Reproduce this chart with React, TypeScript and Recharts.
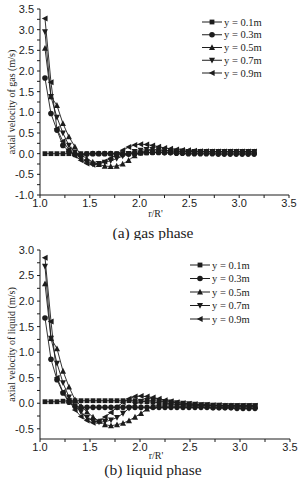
import React from "react";
import { LineChart, Line, XAxis, YAxis, Legend } from "recharts";

const SERIF = '"Liberation Serif", "Times New Roman", serif';
const SANS = '"Liberation Sans", Arial, sans-serif';
const INK = "#1c1c1c";

// radial position r/R'
const rRatio = [
  1.05, 1.11, 1.17, 1.23, 1.29, 1.35, 1.41, 1.47, 1.53, 1.59, 1.65, 1.71,
  1.77, 1.83, 1.89, 1.95, 2.01, 2.07, 2.13, 2.19, 2.25, 2.31, 2.37, 2.43,
  2.49, 2.55, 2.61, 2.67, 2.73, 2.79, 2.85, 2.91, 2.97, 3.03, 3.09, 3.15,
];

// (a) gas phase, axial velocity (m/s)
const gasY01 = [
  0, 0, 0, 0, 0, 0, 0, 0, 0, 0, 0, 0, 0, 0, 0, 0, 0.01, 0.02, 0.03, 0.04,
  0.04, 0.04, 0.04, 0.04, 0.04, 0.04, 0.04, 0.04, 0.04, 0.04, 0.04, 0.04, 0.04,
  0.04, 0.04, 0.04,
];
const gasY03 = [
  1.83, 0.97, 0.57, 0.2, 0.06, -0.02, -0.03, -0.01, 0, 0, 0, 0, -0.01, -0.02,
  -0.01, 0.01, 0.02, 0.03, 0.03, 0.03, 0.02, 0.02, 0.01, 0.01, 0, 0, 0, 0, 0,
  -0.01, -0.01, -0.01, -0.01, -0.01, -0.01, -0.01,
];
const gasY05 = [
  2.55, 1.38, 1.17, 0.73, 0.41, 0.17, -0.02, -0.12, -0.2, -0.26, -0.3, -0.31,
  -0.3, -0.25, -0.16, -0.05, 0.03, 0.07, 0.09, 0.09, 0.08, 0.07, 0.06, 0.05,
  0.05, 0.05, 0.05, 0.05, 0.05, 0.05, 0.05, 0.05, 0.05, 0.05, 0.05, 0.05,
];
const gasY07 = [
  2.95, 1.38, 0.88, 0.5, 0.2, 0.04, -0.12, -0.2, -0.25, -0.24, -0.21, -0.17,
  -0.12, -0.06, 0, 0.05, 0.08, 0.1, 0.1, 0.09, 0.08, 0.07, 0.06, 0.06, 0.05,
  0.05, 0.05, 0.05, 0.05, 0.05, 0.05, 0.05, 0.05, 0.05, 0.05, 0.05,
];
const gasY09 = [
  3.27, 1.73, 0.6, 0.3, 0.1, -0.05, -0.16, -0.24, -0.27, -0.25, -0.19, -0.11,
  -0.02, 0.08, 0.16, 0.21, 0.23, 0.22, 0.2, 0.17, 0.14, 0.12, 0.1, 0.09, 0.08,
  0.07, 0.06, 0.06, 0.05, 0.05, 0.05, 0.05, 0.05, 0.05, 0.05, 0.05,
];

// (b) liquid phase, axial velocity (m/s)
const liqY01 = [
  0.03, 0.03, 0.03, 0.04, 0.05, 0.05, 0.05, 0.05, 0.05, 0.05, 0.05, 0.05, 0.05,
  0.05, 0.05, 0.05, 0.04, 0.03, 0.02, 0.01, 0, -0.01, -0.02, -0.03, -0.03,
  -0.04, -0.04, -0.04, -0.05, -0.05, -0.05, -0.05, -0.05, -0.05, -0.05, -0.05,
];
const liqY03 = [
  1.67, 0.86, 0.46, 0.2, 0.02, -0.06, -0.08, -0.08, -0.08, -0.08, -0.08, -0.08,
  -0.08, -0.08, -0.08, -0.08, -0.08, -0.08, -0.08, -0.08, -0.08, -0.08, -0.08,
  -0.08, -0.08, -0.08, -0.08, -0.08, -0.09, -0.09, -0.09, -0.09, -0.1, -0.1,
  -0.1, -0.1,
];
const liqY05 = [
  2.34, 1.27, 1.07, 0.63, 0.32, 0.07, -0.06, -0.17, -0.27, -0.35, -0.42, -0.44,
  -0.42, -0.39, -0.34, -0.27, -0.2, -0.11, -0.06, -0.04, -0.03, -0.03, -0.03,
  -0.03, -0.04, -0.04, -0.04, -0.05, -0.05, -0.05, -0.05, -0.05, -0.06, -0.06,
  -0.06, -0.06,
];
const liqY07 = [
  2.68, 1.27, 0.78, 0.4, 0.12, -0.05, -0.17, -0.28, -0.35, -0.37, -0.36, -0.33,
  -0.28, -0.2, -0.1, -0.02, 0.03, 0.05, 0.05, 0.04, 0.03, 0.02, 0.01, 0, -0.01,
  -0.02, -0.03, -0.03, -0.04, -0.04, -0.05, -0.05, -0.05, -0.05, -0.05, -0.05,
];
const liqY09 = [
  2.85, 1.6, 0.5, 0.22, 0.05, -0.13, -0.26, -0.34, -0.38, -0.35, -0.27, -0.18,
  -0.08, 0.02, 0.09, 0.13, 0.14, 0.13, 0.11, 0.09, 0.06, 0.04, 0.02, 0, -0.01,
  -0.02, -0.03, -0.03, -0.04, -0.04, -0.05, -0.05, -0.05, -0.05, -0.05, -0.05,
];

const seriesNames = ["y = 0.1m", "y = 0.3m", "y = 0.5m", "y = 0.7m", "y = 0.9m"];
const seriesKeys = ["y01", "y03", "y05", "y07", "y09"];
const markerShapes = ["square", "circle", "up", "down", "left"];

const xTicks = [1, 1.25, 1.5, 1.75, 2, 2.25, 2.5, 2.75, 3, 3.25, 3.5];
const gasYTicks = [
  -1, -0.75, -0.5, -0.25, 0, 0.25, 0.5, 0.75, 1, 1.25, 1.5, 1.75, 2, 2.25, 2.5,
  2.75, 3, 3.25, 3.5,
];
const liqYTicks = [
  -0.5, -0.25, 0, 0.25, 0.5, 0.75, 1, 1.25, 1.5, 1.75, 2, 2.25, 2.5, 2.75, 3,
];

function buildRows(cols: number[][]) {
  return rRatio.map((r, i) => {
    const row: Record<string, number> = { r };
    seriesKeys.forEach((k, j) => (row[k] = cols[j][i]));
    return row;
  });
}

const gasRows = buildRows([gasY01, gasY03, gasY05, gasY07, gasY09]);
const liqRows = buildRows([liqY01, liqY03, liqY05, liqY07, liqY09]);

// only label the half-unit ticks, the quarter ones are minor
const majorFmt = (v: number) =>
  Math.abs(v * 2 - Math.round(v * 2)) < 1e-6 ? v.toFixed(1) : "";

function Marker({ shape, cx, cy }: { shape: string; cx: number; cy: number }) {
  const s = 2.6;
  if (cx == null || cy == null) return null;
  switch (shape) {
    case "square":
      return <rect x={cx - 2.4} y={cy - 2.4} width={4.8} height={4.8} fill={INK} />;
    case "circle":
      return <circle cx={cx} cy={cy} r={2.8} fill={INK} />;
    case "up":
      return (
        <polygon
          points={`${cx},${cy - s - 0.6} ${cx - s - 0.4},${cy + s} ${cx + s + 0.4},${cy + s}`}
          fill={INK}
        />
      );
    case "down":
      return (
        <polygon
          points={`${cx},${cy + s + 0.6} ${cx - s - 0.4},${cy - s} ${cx + s + 0.4},${cy - s}`}
          fill={INK}
        />
      );
    default:
      return (
        <polygon
          points={`${cx - s - 0.6},${cy} ${cx + s},${cy - s - 0.4} ${cx + s},${cy + s + 0.4}`}
          fill={INK}
        />
      );
  }
}

function LegendBox({ lineX, textX, rowGap }: { lineX: number; textX: number; rowGap: number }) {
  return (
    <svg width={90} height={rowGap * 5 + 4} style={{ display: "block", overflow: "visible" }}>
      {seriesNames.map((name, i) => {
        const y = 6 + i * rowGap;
        return (
          <g key={name}>
            <line x1={lineX} x2={lineX + 20} y1={y} y2={y} stroke={INK} strokeWidth={1} />
            <Marker shape={markerShapes[i]} cx={lineX + 10} cy={y} />
            <text
              x={textX}
              y={y}
              dy="0.35em"
              fontFamily={SERIF}
              fontSize={10.5}
              fill={INK}
            >
              {name}
            </text>
          </g>
        );
      })}
    </svg>
  );
}

interface PanelProps {
  rows: Record<string, number>[];
  yDomain: [number, number];
  yTicks: number[];
  yLabel: string;
  caption: string;
  height: number;
  margin: { top: number; right: number; bottom: number; left: number };
  legendLeft: number;
  legendTop: number;
  legendGap: number;
  captionTop: number;
  xLabelOffset: number;
}

function Panel({
  rows,
  yDomain,
  yTicks,
  yLabel,
  caption,
  height,
  margin,
  legendLeft,
  legendTop,
  legendGap,
  captionTop,
  xLabelOffset,
}: PanelProps) {
  return (
    <div style={{ position: "relative", width: 299, height, overflow: "hidden" }}>
      <LineChart width={299} height={height} data={rows} margin={margin}>
        <XAxis
          dataKey="r"
          type="number"
          domain={[1, 3.5]}
          ticks={xTicks}
          interval={0}
          tickFormatter={majorFmt}
          tickSize={3}
          tickMargin={1}
          height={22}
          stroke={INK}
          tick={{ fill: INK, fontSize: 11, fontFamily: SANS }}
          label={{
            value: "r/R'",
            position: "insideBottom",
            offset: xLabelOffset,
            dx: -9,
            style: { fill: INK, fontSize: 10, fontFamily: SERIF },
          }}
        />
        <XAxis
          xAxisId="top"
          orientation="top"
          type="number"
          domain={[1, 3.5]}
          tick={false}
          tickLine={false}
          height={0}
          stroke={INK}
        />
        <YAxis
          type="number"
          domain={yDomain}
          ticks={yTicks}
          interval={0}
          allowDataOverflow
          tickFormatter={majorFmt}
          tickSize={3}
          tickMargin={3}
          width={40}
          stroke={INK}
          tick={{ fill: INK, fontSize: 11, fontFamily: SANS }}
          label={{
            value: yLabel,
            angle: -90,
            position: "insideLeft",
            offset: 11,
            style: { fill: INK, fontSize: 10, fontFamily: SERIF, textAnchor: "middle" },
          }}
        />
        <YAxis
          yAxisId="right"
          orientation="right"
          type="number"
          domain={yDomain}
          tick={false}
          tickLine={false}
          width={0}
          stroke={INK}
        />
        {seriesKeys.map((k, i) => (
          <Line
            key={k}
            dataKey={k}
            name={seriesNames[i]}
            type="linear"
            stroke={INK}
            strokeWidth={0.9}
            isAnimationActive={false}
            dot={(p: any) => (
              <g key={`${k}-${p.index}`}>
                <Marker shape={markerShapes[i]} cx={p.cx} cy={p.cy} />
              </g>
            )}
            activeDot={false}
          />
        ))}
        <Legend
          layout="vertical"
          align="center"
          verticalAlign="middle"
          wrapperStyle={{ left: legendLeft, top: legendTop, width: 90 }}
          content={() => <LegendBox lineX={0} textX={22} rowGap={legendGap} />}
        />
      </LineChart>
      <div
        style={{
          position: "absolute",
          left: 53,
          width: 200,
          top: captionTop,
          textAlign: "center",
          fontFamily: SERIF,
          fontSize: 15.5,
          lineHeight: "15px",
          color: INK,
        }}
      >
        {caption}
      </div>
    </div>
  );
}

export default function App() {
  return (
    <div style={{ width: 299, height: 483, background: "#fff", position: "relative" }}>
      <style>{`body{margin:0}`}</style>
      <Panel
        rows={gasRows}
        yDomain={[-1, 3.5]}
        yTicks={gasYTicks}
        yLabel="axial velocity of gas (m/s)"
        caption="(a) gas phase"
        height={240}
        margin={{ top: 9, right: 10, bottom: 23, left: 0 }}
        legendLeft={202}
        legendTop={16}
        legendGap={12.75}
        captionTop={225}
        xLabelOffset={0}
      />
      <Panel
        rows={liqRows}
        yDomain={[-0.7, 3]}
        yTicks={liqYTicks}
        yLabel="axial velocity of liquid (m/s)"
        caption="(b) liquid phase"
        height={243}
        margin={{ top: 10, right: 9, bottom: 22, left: 0 }}
        legendLeft={190}
        legendTop={19}
        legendGap={13.5}
        captionTop={222}
        xLabelOffset={2}
      />
    </div>
  );
}
